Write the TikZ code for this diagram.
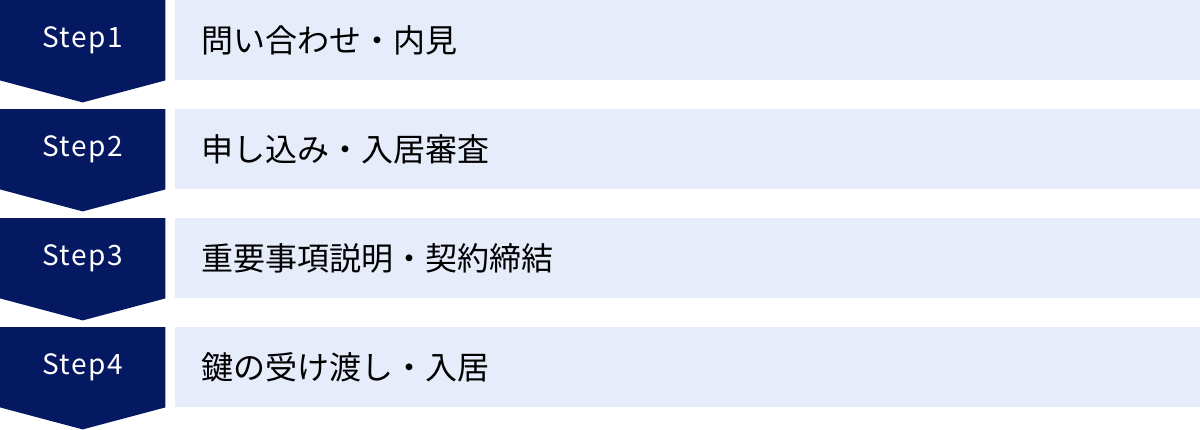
\documentclass[tikz,border=0pt]{standalone}
\usepackage{fontspec}
\setmainfont{Noto Sans CJK JP}
\usepackage{xcolor}
\usepackage{tikz}
\usetikzlibrary{positioning,calc,backgrounds}

\definecolor{stepnavy}{RGB}{5,24,98}
\definecolor{steplight}{RGB}{230,236,250}

\begin{document}
\begin{tikzpicture}[
					x=1pt, y=1pt,
					stepnode/.style={
						rectangle, text=white,
						minimum width=165pt, minimum height=80pt, inner sep=0pt,
						anchor=north west,
						font=\fontsize{28pt}{32pt}\selectfont\addfontfeatures{LetterSpace=6}
					},
					textnode/.style={
						rectangle, fill=steplight, text=black,
						minimum height=80pt, inner xsep=27pt, inner ysep=0pt,
						text width=972pt, align=left,
						font=\fontsize{32pt}{36pt}\selectfont
					},
					tipfill/.style={fill=stepnavy}
					]
					
					\useasboundingbox (0,0) rectangle (1200,-429);
					
					% --- STEP 1 ---
					\node[stepnode] (s1) at (0,0) {Step1};
					\node[textnode, right=9pt of s1] (t1) {問い合わせ・内見};
					
					% --- STEP 2 ---
					\node[stepnode] (s2) at (0,-109) {Step2};
					\node[textnode, right=9pt of s2] (t2) {申し込み・入居審査};
					
					% --- STEP 3 ---
					\node[stepnode] (s3) at (0,-218) {Step3};
					\node[textnode, right=9pt of s3] (t3) {重要事項説明・契約締結};
					
					% --- STEP 4 ---
					\node[stepnode] (s4) at (0,-327) {Step4};
					\node[textnode, right=9pt of s4] (t4) {鍵の受け渡し・入居};
					
					% --- Pentagon arrows behind the step labels ---
					\begin{scope}[on background layer]
						\fill[tipfill] (s1.north west) -- (s1.north east) -- (s1.south east) -- ($(s1.south)+(0,-22)$) -- (s1.south west) -- cycle;
						\fill[tipfill] (s2.north west) -- (s2.north east) -- (s2.south east) -- ($(s2.south)+(0,-22)$) -- (s2.south west) -- cycle;
						\fill[tipfill] (s3.north west) -- (s3.north east) -- (s3.south east) -- ($(s3.south)+(0,-22)$) -- (s3.south west) -- cycle;
						\fill[tipfill] (s4.north west) -- (s4.north east) -- (s4.south east) -- ($(s4.south)+(0,-22)$) -- (s4.south west) -- cycle;
					\end{scope}
					
				\end{tikzpicture}
\end{document}
